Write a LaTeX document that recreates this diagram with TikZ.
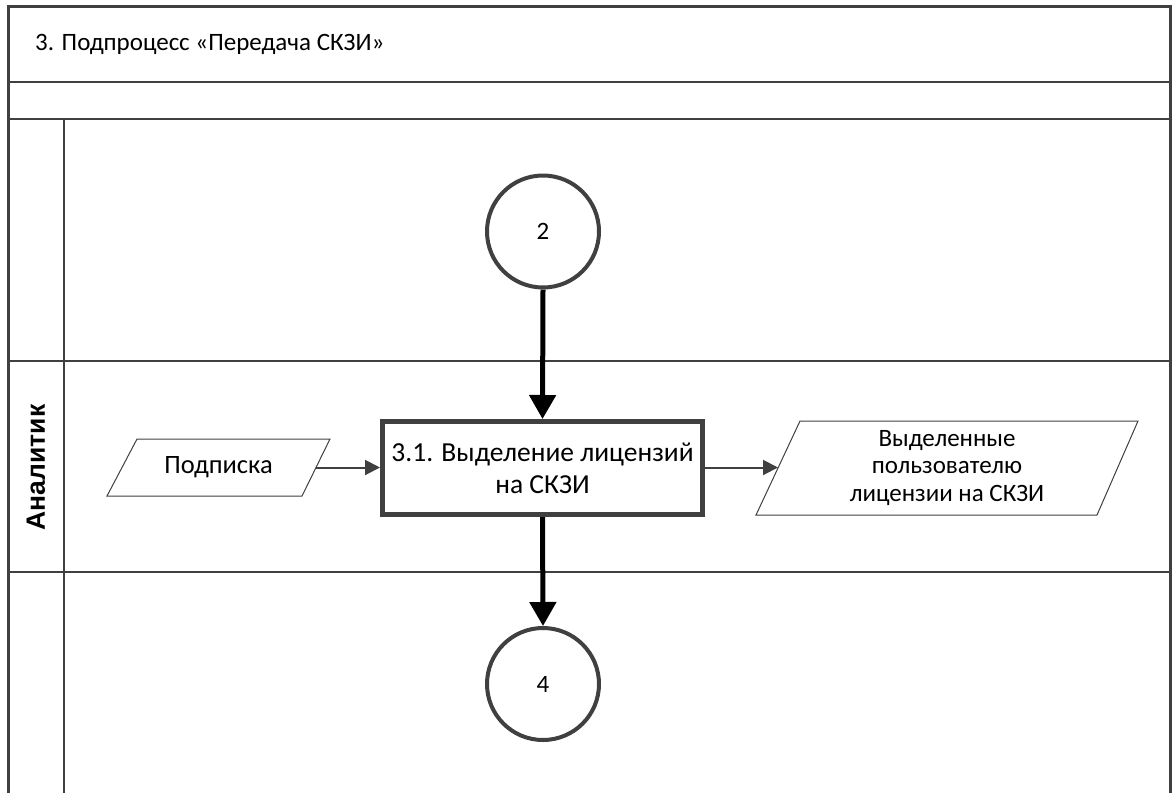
\documentclass[tikz,border=0pt]{standalone}
\usepackage{fontspec}
\setmainfont{Carlito}
\newfontfamily\lanefont{Liberation Sans}
\usetikzlibrary{arrows.meta}
\definecolor{lc}{HTML}{404040}
\tikzset{
  frame/.style={draw=lc, line width=3pt},
  inner line/.style={draw=lc, line width=2.5pt},
  txt/.style={font=\fontsize{25}{30}\selectfont, text=black, align=center, inner sep=0pt},
  connector/.style={draw=lc, line width=2pt, -{Triangle[length=15pt,width=15pt]}},
  bigarrow/.style={draw=black, line width=5pt, -{Triangle[length=24pt,width=26pt]}},
  onpage/.style={circle, draw=lc, line width=4pt, minimum size=112pt, inner sep=0pt, font=\fontsize{25}{30}\selectfont},
  process/.style={rectangle, draw=lc, line width=5pt, minimum width=320pt, minimum height=93pt, inner sep=0pt, align=center, font=\fontsize{27.5}{32}\selectfont},
  datashape/.style={draw=lc, line width=1pt, fill=white}
}
\begin{document}
\begin{tikzpicture}[x=1pt, y=-1pt]
\useasboundingbox (0,0) rectangle (1172,793);
% pool frame
\draw[frame] (8,793) -- (8,6) -- (1170,6) -- (1170,793);
\draw[inner line] (8,82) -- (1170,82);
\draw[inner line] (8,119) -- (1170,119);
\draw[inner line] (8,361) -- (1170,361);
\draw[inner line] (8,572) -- (1170,572);
\draw[inner line] (64,119) -- (64,793);
% title
\node[txt, anchor=west] (title) at (35,44) {3. Подпроцесс «Передача СКЗИ»};
% lane label
\node[rotate=90, inner sep=0pt, font=\lanefont\bfseries\fontsize{26.5}{30}\selectfont] (lane) at (36,467.5) {Аналитик};
% nodes
\node[onpage] (c2) at (543,231.5) {2};
\node[onpage] (c4) at (543,684) {4};
\node[process] (p31) at (542.5,468) {3.1. Выделение лицензий\\на СКЗИ};
% input data
\draw[datashape] (137,439) -- (330,439) -- (302,496) -- (107,496) -- cycle;
\node[txt, font=\fontsize{26.5}{30}\selectfont] (in) at (218.5,467.5) {Подписка};
\coordinate (inR) at (316,467.5);
% output data
\draw[datashape] (800,421) -- (1138,421) -- (1097,515) -- (756,515) -- cycle;
\node[txt, font=\fontsize{25}{27.5}\selectfont] (out) at (947,468) {Выделенные\\пользователю\\лицензии на СКЗИ};
\coordinate (outL) at (778,467.5);
% connectors
\draw[bigarrow] (c2.south) -- (p31.north);
\draw[bigarrow] (p31.south) -- (c4.north);
\draw[connector] (inR) -- (p31.west |- inR);
\draw[connector] (p31.east |- outL) -- (outL);
\end{tikzpicture}
\end{document}
